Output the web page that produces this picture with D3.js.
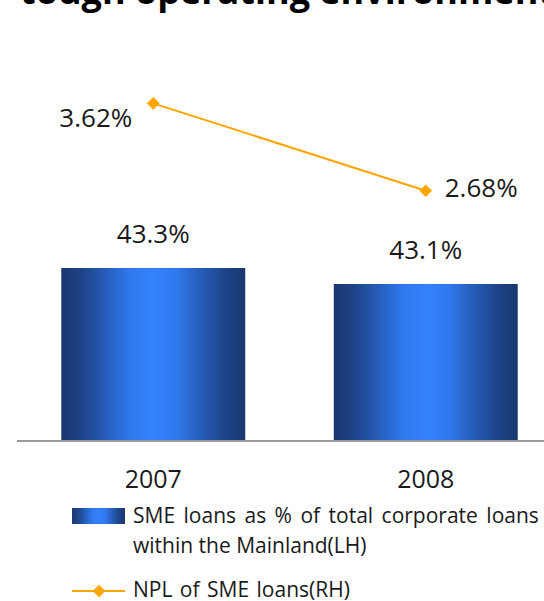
<!DOCTYPE html>
<html>
<head>
<meta charset="utf-8">
<script src="https://cdn.jsdelivr.net/npm/d3@7"></script>
<style>
  html, body { margin: 0; padding: 0; background: #fff; }
  svg { display: block; font-family: "Open Sans", "Noto Sans", sans-serif; }
</style>
</head>
<body>
<svg id="chart" width="544" height="601"></svg>
<script>
// Data
const years = ["2007", "2008"];
const smeShare = [43.3, 43.1];      // SME loans as % of total corporate loans (left axis)
const nplRatio = [3.62, 2.68];      // NPL of SME loans (right axis)
const titleText = "tough operating environment";
const legendBarLines = ["SME loans as % of total corporate loans", "within the Mainland(LH)"];
const legendLineText = "NPL of SME loans(RH)";

const W = 544, H = 601;
const svg = d3.select("#chart");

const plot = { left: 17, right: 562, top: 68, bottom: 440 };

const x = d3.scaleBand()
  .domain(years)
  .range([plot.left, plot.right])
  .paddingInner(0.325)
  .paddingOuter(0.1625);

const yLeft = d3.scaleLinear().domain([41.15, 45.8]).range([plot.bottom, plot.top]);
const yRight = d3.scaleLinear().domain([0, 4]).range([plot.bottom, plot.top]);

// Horizontal cylinder-like gradient for the bars
const defs = svg.append("defs");
const grad = defs.append("linearGradient")
  .attr("id", "barGrad").attr("x1", "0%").attr("x2", "100%").attr("y1", "0%").attr("y2", "0%");
[
  [0, "#1a3771"], [0.1, "#1d4285"], [0.22, "#2458b2"], [0.38, "#307aef"],
  [0.5, "#3381fd"], [0.62, "#307aef"], [0.78, "#2458b2"], [0.9, "#1d4285"], [1, "#1a3771"]
].forEach(([o, c]) => grad.append("stop").attr("offset", o).attr("stop-color", c));

const textColor = "#1a1a1a";
const orange = "#FFA500";

// Title (runs off the top of the canvas)
svg.append("text")
  .attr("x", 20).attr("y", 4)
  .attr("font-size", 36).attr("font-weight", "bold")
  .attr("fill", "#000")
  .text(titleText);

// Bars
svg.selectAll("rect.bar")
  .data(years)
  .join("rect")
  .attr("class", "bar")
  .attr("x", d => x(d))
  .attr("width", x.bandwidth())
  .attr("y", (d, i) => yLeft(smeShare[i]))
  .attr("height", (d, i) => plot.bottom - yLeft(smeShare[i]))
  .attr("fill", "url(#barGrad)");

// Bar value labels
svg.selectAll("text.barLabel")
  .data(years)
  .join("text")
  .attr("class", "barLabel")
  .attr("x", d => x(d) + x.bandwidth() / 2)
  .attr("y", (d, i) => yLeft(smeShare[i]) - 25)
  .attr("text-anchor", "middle")
  .attr("font-size", 26)
  .attr("fill", textColor)
  .text((d, i) => smeShare[i].toFixed(1) + "%");

// Category axis baseline
svg.append("line")
  .attr("x1", plot.left).attr("x2", W)
  .attr("y1", plot.bottom + 1).attr("y2", plot.bottom + 1)
  .attr("stroke", "#999").attr("stroke-width", 2);

// Category labels
svg.selectAll("text.year")
  .data(years)
  .join("text")
  .attr("class", "year")
  .attr("x", d => x(d) + x.bandwidth() / 2)
  .attr("y", 488)
  .attr("text-anchor", "middle")
  .attr("font-size", 25)
  .attr("fill", textColor)
  .text(d => d);

// NPL line
const linePts = years.map((d, i) => [x(d) + x.bandwidth() / 2, yRight(nplRatio[i])]);
svg.append("path")
  .attr("d", d3.line()(linePts))
  .attr("fill", "none")
  .attr("stroke", orange)
  .attr("stroke-width", 2);

const diamond = d3.symbol().type(d3.symbolSquare).size(80);
svg.selectAll("path.marker")
  .data(linePts)
  .join("path")
  .attr("class", "marker")
  .attr("transform", d => `translate(${d[0]},${d[1]}) rotate(45)`)
  .attr("d", diamond)
  .attr("fill", orange);

// NPL value labels: first to the lower left, second to the right
const nplLabelPlace = [
  { dx: -21, dy: 24, anchor: "end" },
  { dx: 19, dy: 6, anchor: "start" }
];
svg.selectAll("text.nplLabel")
  .data(linePts)
  .join("text")
  .attr("class", "nplLabel")
  .attr("x", (d, i) => d[0] + nplLabelPlace[i].dx)
  .attr("y", (d, i) => d[1] + nplLabelPlace[i].dy)
  .attr("text-anchor", (d, i) => nplLabelPlace[i].anchor)
  .attr("font-size", 26)
  .attr("fill", textColor)
  .text((d, i) => nplRatio[i].toFixed(2) + "%");

// Legend
const lg = svg.append("g").attr("font-size", 21).attr("fill", textColor);
lg.append("rect")
  .attr("x", 72).attr("y", 508).attr("width", 53).attr("height", 16)
  .attr("fill", "url(#barGrad)");
lg.selectAll("text.lgBar")
  .data(legendBarLines)
  .join("text")
  .attr("class", "lgBar")
  .attr("x", 133)
  .attr("y", (d, i) => 523 + i * 30)
  .attr("word-spacing", (d, i) => i === 0 ? 3 : 0)
  .text(d => d);

lg.append("line")
  .attr("x1", 72).attr("x2", 125).attr("y1", 591).attr("y2", 591)
  .attr("stroke", orange).attr("stroke-width", 2);
lg.append("path")
  .attr("transform", "translate(99,591) rotate(45)")
  .attr("d", diamond)
  .attr("fill", orange);
lg.append("text")
  .attr("x", 133).attr("y", 597)
  .attr("word-spacing", 2)
  .text(legendLineText);
</script>
</body>
</html>
